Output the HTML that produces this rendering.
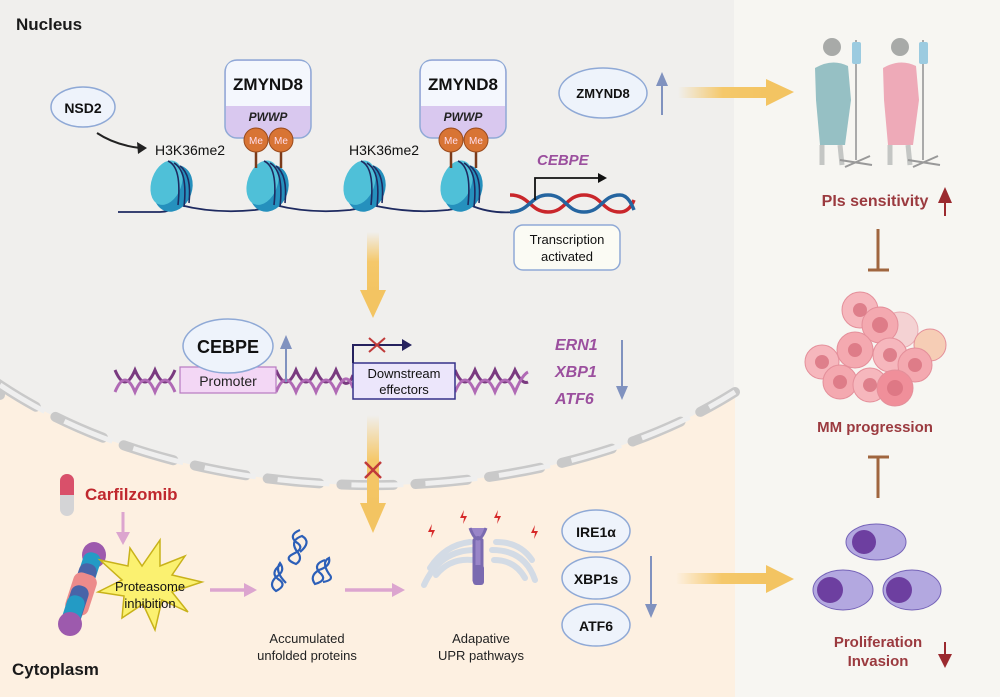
<!DOCTYPE html>
<html><head><meta charset="utf-8"><style>
html,body{margin:0;padding:0;background:#fff}
svg{display:block}
text{font-family:"Liberation Sans",sans-serif}
</style></head><body>
<svg width="1000" height="697" viewBox="0 0 1000 697" xmlns="http://www.w3.org/2000/svg">
<defs>
<linearGradient id="yh" x1="0" x2="1" y1="0" y2="0"><stop offset="0" stop-color="#f5c86a" stop-opacity="0"/><stop offset="0.5" stop-color="#f5c86a"/><stop offset="1" stop-color="#f3c462"/></linearGradient>
<linearGradient id="yv" x1="0" x2="0" y1="0" y2="1"><stop offset="0" stop-color="#f5c86a" stop-opacity="0"/><stop offset="0.5" stop-color="#f5c86a"/><stop offset="1" stop-color="#f3c462"/></linearGradient>
<g id="nuc"><ellipse cx="4" cy="2" rx="19" ry="24" transform="rotate(20)" fill="#2590bd"/><ellipse cx="-4" cy="-1" rx="15" ry="23" transform="rotate(20)" fill="#4fc0d8"/><path d="M-2,-24 Q12,-18 8,20 M4,-22 Q18,-14 14,22 M10,-19 Q22,-10 19,18" stroke="#1e2a60" stroke-width="1.6" fill="none"/></g>
</defs>
<rect width="1000" height="697" fill="#f0efed"/>
<rect x="734" y="0" width="266" height="697" fill="#f7f6f2"/>
<path d="M0,385 A500,300 0 0 0 735,392 L735,697 L0,697 Z" fill="#fdf0e1"/>
<path d="M0,395 L0,385 A500,300 0 0 0 735,392" fill="none" stroke="#c9c9c9" stroke-width="10" stroke-linecap="round" stroke-dasharray="52 22"/>
<path d="M0,385 A500,300 0 0 0 735,392" fill="none" stroke="#efefef" stroke-width="5" stroke-dasharray="52 22"/>

<text x="16" y="30" font-size="17" font-weight="bold" fill="#1a1a1a">Nucleus</text>
<text x="12" y="675" font-size="17" font-weight="bold" fill="#1a1a1a">Cytoplasm</text>

<ellipse cx="83" cy="107" rx="32" ry="20" fill="#eef3fb" stroke="#8fa9d6" stroke-width="1.5"/>
<text x="83" y="113" font-size="14" font-weight="bold" text-anchor="middle" fill="#111">NSD2</text>
<path d="M97,133 Q115,145 140,148" stroke="#222" stroke-width="2" fill="none"/>
<path d="M147,148 L137,142 L138,154 Z" fill="#222"/>
<text x="155" y="155" font-size="14" fill="#111">H3K36me2</text>
<text x="349" y="155" font-size="14" fill="#111">H3K36me2</text>

<path d="M118,212 L160,212 Q170,212 180,205 Q215,214 255,210 Q268,208 275,205 Q310,214 350,210 Q362,208 372,205 Q410,214 448,210 Q460,208 470,205 Q490,214 515,212" stroke="#1e2a60" stroke-width="1.8" fill="none"/>
<use href="#nuc" x="170" y="185"/>
<use href="#nuc" x="266" y="185"/>
<use href="#nuc" x="363" y="185"/>
<use href="#nuc" x="460" y="185"/>

<g>
<rect x="225" y="60" width="86" height="78" rx="12" fill="#d9c8ef" stroke="#8fa9d6" stroke-width="1.5"/>
<path d="M226,106 L226,72 Q226,61 237,61 L299,61 Q310,61 310,72 L310,106 Z" fill="#f4f7fd"/>
<text x="268" y="90" font-size="17" font-weight="bold" text-anchor="middle" fill="#111">ZMYND8</text>
<text x="268" y="121" font-size="12" font-weight="bold" font-style="italic" text-anchor="middle" fill="#222">PWWP</text>
<line x1="256" y1="145" x2="256" y2="168" stroke="#7a3a1a" stroke-width="2.5"/><line x1="281" y1="145" x2="281" y2="168" stroke="#7a3a1a" stroke-width="2.5"/>
<circle cx="256" cy="140" r="12" fill="#d87434" stroke="#9a4a1c"/><circle cx="281" cy="140" r="12" fill="#d87434" stroke="#9a4a1c"/>
<text x="256" y="144" font-size="10" text-anchor="middle" fill="#fde">Me</text><text x="281" y="144" font-size="10" text-anchor="middle" fill="#fde">Me</text>
</g>
<g transform="translate(195,0)">
<rect x="225" y="60" width="86" height="78" rx="12" fill="#d9c8ef" stroke="#8fa9d6" stroke-width="1.5"/>
<path d="M226,106 L226,72 Q226,61 237,61 L299,61 Q310,61 310,72 L310,106 Z" fill="#f4f7fd"/>
<text x="268" y="90" font-size="17" font-weight="bold" text-anchor="middle" fill="#111">ZMYND8</text>
<text x="268" y="121" font-size="12" font-weight="bold" font-style="italic" text-anchor="middle" fill="#222">PWWP</text>
<line x1="256" y1="145" x2="256" y2="168" stroke="#7a3a1a" stroke-width="2.5"/><line x1="281" y1="145" x2="281" y2="168" stroke="#7a3a1a" stroke-width="2.5"/>
<circle cx="256" cy="140" r="12" fill="#d87434" stroke="#9a4a1c"/><circle cx="281" cy="140" r="12" fill="#d87434" stroke="#9a4a1c"/>
<text x="256" y="144" font-size="10" text-anchor="middle" fill="#fde">Me</text><text x="281" y="144" font-size="10" text-anchor="middle" fill="#fde">Me</text>
</g>

<text x="537" y="165" font-size="15" font-weight="bold" font-style="italic" fill="#9b4f9e">CEBPE</text>
<path d="M510,195 C530,195 530,212 548,212 C566,212 566,195 584,195 C602,195 602,212 620,212 C628,212 632,205 634,200" stroke="#c9262b" stroke-width="3.5" fill="none"/>
<path d="M510,212 C530,212 530,195 548,195 C566,195 566,212 584,212 C602,212 602,195 620,195 C628,195 632,205 634,210" stroke="#2565a0" stroke-width="3.5" fill="none"/>
<path d="M535,200 L535,178 L600,178" stroke="#111" stroke-width="1.8" fill="none"/><path d="M607,178 L598,173 L598,183 Z" fill="#111"/>
<rect x="514" y="225" width="106" height="45" rx="9" fill="#fbfbf4" stroke="#8fa9d6" stroke-width="1.5"/>
<text x="567" y="244" font-size="13" text-anchor="middle" fill="#111">Transcription</text>
<text x="567" y="261" font-size="13" text-anchor="middle" fill="#111">activated</text>

<ellipse cx="603" cy="93" rx="44" ry="25" fill="#eef3fb" stroke="#8fa9d6" stroke-width="1.5"/>
<text x="603" y="98" font-size="13" font-weight="bold" text-anchor="middle" fill="#111">ZMYND8</text>
<line x1="662" y1="115" x2="662" y2="82" stroke="#8092bf" stroke-width="2"/><path d="M662,72 L656,86 L668,86 Z" fill="#8092bf"/>
<rect x="678" y="87" width="90" height="11" fill="url(#yh)"/><path d="M766,79 L794,92 L766,106 Z" fill="#f3c462"/>

<rect x="367" y="232" width="12" height="60" fill="url(#yv)"/><path d="M360,290 L386,290 L373,318 Z" fill="#f3c462"/>

<path d="M115,370 Q125,394 135,370 Q145,394 155,370 Q165,394 175,370 M276,370 Q286,394 296,370 Q306,394 316,370 Q326,394 336,370 Q346,394 353,375 M455,370 Q465,394 475,370 Q485,394 495,370 Q505,394 515,370 Q522,385 528,382" stroke="#7a3a80" stroke-width="3" fill="none"/>
<path d="M115,392 Q125,368 135,392 Q145,368 155,392 Q165,368 175,392 M276,392 Q286,368 296,392 Q306,368 316,392 Q326,368 336,392 Q346,368 353,388 M455,392 Q465,368 475,392 Q485,368 495,392 Q505,368 515,392 Q522,375 528,372" stroke="#b06ab5" stroke-width="3" fill="none"/>
<rect x="180" y="367" width="96" height="26" fill="#f3d7f5" stroke="#b77ac0" stroke-width="1.2"/>
<text x="228" y="386" font-size="14" text-anchor="middle" fill="#222">Promoter</text>
<ellipse cx="228" cy="346" rx="45" ry="27" fill="#eef3fb" stroke="#8fa9d6" stroke-width="1.5"/>
<text x="228" y="353" font-size="18" font-weight="bold" text-anchor="middle" fill="#111">CEBPE</text>
<line x1="286" y1="382" x2="286" y2="345" stroke="#8092bf" stroke-width="2"/><path d="M286,335 L280,349 L292,349 Z" fill="#8092bf"/>
<rect x="353" y="363" width="102" height="36" fill="#ece6fb" stroke="#35308a" stroke-width="1.5"/>
<text x="404" y="378" font-size="13" text-anchor="middle" fill="#111">Downstream</text>
<text x="404" y="394" font-size="13" text-anchor="middle" fill="#111">effectors</text>
<path d="M353,363 L353,345 L405,345" stroke="#25215e" stroke-width="2" fill="none"/><path d="M412,345 L402,339 L402,351 Z" fill="#25215e"/>
<path d="M369,338 L385,352 M385,338 L369,352" stroke="#c03a3a" stroke-width="2"/>
<text x="555" y="350" font-size="16" font-weight="bold" font-style="italic" fill="#9b4f9e">ERN1</text>
<text x="555" y="377" font-size="16" font-weight="bold" font-style="italic" fill="#9b4f9e">XBP1</text>
<text x="555" y="404" font-size="16" font-weight="bold" font-style="italic" fill="#9b4f9e">ATF6</text>
<line x1="622" y1="340" x2="622" y2="390" stroke="#8092bf" stroke-width="2"/><path d="M622,400 L616,386 L628,386 Z" fill="#8092bf"/>

<rect x="367" y="415" width="12" height="90" fill="url(#yv)"/><path d="M360,503 L386,503 L373,533 Z" fill="#f3c462"/>
<path d="M365,462 L381,478 M381,462 L365,478" stroke="#c03a3a" stroke-width="2.5"/>

<rect x="60" y="474" width="14" height="42" rx="7" fill="#d4d4d6"/><path d="M60,495 L60,481 A7,7 0 0 1 74,481 L74,495 Z" fill="#d9506a"/>
<text x="85" y="500" font-size="17" font-weight="bold" fill="#c0282e">Carfilzomib</text>
<line x1="123" y1="512" x2="123" y2="535" stroke="#dca5cf" stroke-width="3"/><path d="M123,545 L116,532 L130,532 Z" fill="#dca5cf"/>
<g>
<ellipse cx="94" cy="555" rx="12" ry="13" fill="#9d5aad"/>
<rect x="68" y="563" width="40" height="18" rx="8" fill="#239bc5" transform="rotate(-72 88 572)"/>
<rect x="64" y="574" width="40" height="18" rx="8" fill="#4864a8" transform="rotate(-72 84 583)"/>
<rect x="60" y="582" width="42" height="24" rx="8" fill="#ec8b8b" transform="rotate(-72 81 594)"/>
<rect x="56" y="596" width="40" height="18" rx="8" fill="#4864a8" transform="rotate(-72 76 605)"/>
<rect x="52" y="606" width="40" height="18" rx="8" fill="#239bc5" transform="rotate(-72 72 615)"/>
<ellipse cx="70" cy="624" rx="12" ry="12" fill="#9d5aad"/>
</g>
<polygon points="130,548 142,566 160,540 160,566 185,556 172,575 202,582 172,592 188,612 162,600 155,630 143,604 122,618 124,596 98,592 122,580 100,560 128,566" fill="#fbf170" stroke="#c8b21a" stroke-width="1.5"/>
<text x="150" y="591" font-size="13" text-anchor="middle" fill="#111">Proteasome</text>
<text x="150" y="608" font-size="13" text-anchor="middle" fill="#111">inhibition</text>
<line x1="210" y1="590" x2="245" y2="590" stroke="#dca5cf" stroke-width="3.5"/><path d="M257,590 L244,583 L244,597 Z" fill="#dca5cf"/>
<g stroke="#2c5fb8" stroke-width="2.2" fill="none">
<path d="M300,530 q-12,5 -4,12 q10,6 -3,12 q-10,5 3,10 q8,-5 0,-14 q-6,-10 6,-14 q10,6 -2,16"/>
<path d="M280,565 q-10,8 -2,14 q10,6 -2,12 q-8,-6 0,-14 q10,-6 4,-14 q-6,8 6,20"/>
<path d="M325,560 q-12,4 -6,12 q10,8 -4,12 q-6,-8 4,-14 q12,-4 10,-12 q-8,4 0,16 q6,6 -6,8"/>
</g>
<text x="307" y="643" font-size="13" text-anchor="middle" fill="#222">Accumulated</text>
<text x="307" y="660" font-size="13" text-anchor="middle" fill="#222">unfolded proteins</text>
<line x1="345" y1="590" x2="393" y2="590" stroke="#dca5cf" stroke-width="3.5"/><path d="M405,590 L392,583 L392,597 Z" fill="#dca5cf"/>
<g fill="none" stroke="#d3dbe5" stroke-width="6" stroke-linecap="round">
<path d="M424,585 Q440,550 475,550"/><path d="M436,575 Q450,558 472,560"/><path d="M430,568 Q445,545 470,542"/>
<path d="M492,550 Q525,550 535,580"/><path d="M494,560 Q515,560 525,578"/><path d="M496,542 Q520,542 532,560"/>
</g>
<path d="M474,540 Q478,535 482,540 L482,580 L474,580 Z M470,528 Q478,550 486,528" stroke="#7a6ab0" stroke-width="3" fill="#9985c8"/>
<rect x="473" y="565" width="11" height="20" rx="3" fill="#7a6ab0"/>
<g fill="#d62a2a"><path d="M428,532 l4,-8 l-1,6 l4,0 l-4,8 l1,-6 z"/><path d="M460,518 l4,-8 l-1,6 l4,0 l-4,8 l1,-6 z"/><path d="M494,518 l4,-8 l-1,6 l4,0 l-4,8 l1,-6 z"/><path d="M531,533 l4,-8 l-1,6 l4,0 l-4,8 l1,-6 z"/></g>
<text x="481" y="643" font-size="13" text-anchor="middle" fill="#222">Adapative</text>
<text x="481" y="660" font-size="13" text-anchor="middle" fill="#222">UPR pathways</text>
<ellipse cx="596" cy="531" rx="34" ry="21" fill="#eef3fb" stroke="#8fa9d6" stroke-width="1.5"/>
<text x="596" y="537" font-size="14" font-weight="bold" text-anchor="middle" fill="#111">IRE1α</text>
<ellipse cx="596" cy="578" rx="34" ry="21" fill="#eef3fb" stroke="#8fa9d6" stroke-width="1.5"/>
<text x="596" y="584" font-size="14" font-weight="bold" text-anchor="middle" fill="#111">XBP1s</text>
<ellipse cx="596" cy="625" rx="34" ry="21" fill="#eef3fb" stroke="#8fa9d6" stroke-width="1.5"/>
<text x="596" y="631" font-size="14" font-weight="bold" text-anchor="middle" fill="#111">ATF6</text>
<line x1="651" y1="556" x2="651" y2="608" stroke="#8092bf" stroke-width="2"/><path d="M651,618 L645,604 L657,604 Z" fill="#8092bf"/>
<rect x="676" y="573" width="92" height="11" fill="url(#yh)"/><path d="M766,565 L794,579 L766,593 Z" fill="#f3c462"/>

<g>
<circle cx="832" cy="47" r="9" fill="#a8aaa8"/>
<path d="M815,68 Q832,58 848,66 L851,100 L845,145 L820,145 L816,100 Z" fill="#96c0c4"/>
<path d="M822,145 L822,165 M840,145 L842,165" stroke="#c4c6c4" stroke-width="5"/>
<line x1="856" y1="40" x2="856" y2="160" stroke="#aaa" stroke-width="2"/>
<rect x="852" y="42" width="9" height="22" rx="2" fill="#9ccbe0"/>
<path d="M840,160 L872,165 M845,167 L870,156" stroke="#999" stroke-width="2"/>
<circle cx="900" cy="47" r="9" fill="#a8aaa8"/>
<path d="M883,68 Q900,58 916,66 L919,100 L913,145 L888,145 L884,100 Z" fill="#eeaab8"/>
<path d="M890,145 L890,165 M908,145 L910,165" stroke="#c4c6c4" stroke-width="5"/>
<line x1="923" y1="40" x2="923" y2="160" stroke="#aaa" stroke-width="2"/>
<rect x="919" y="42" width="9" height="22" rx="2" fill="#9ccbe0"/>
<path d="M908,160 L940,165 M913,167 L938,156" stroke="#999" stroke-width="2"/>
</g>
<text x="875" y="206" font-size="16" font-weight="bold" text-anchor="middle" fill="#9b3a3f">PIs sensitivity</text>
<line x1="945" y1="216" x2="945" y2="200" stroke="#9b2a2f" stroke-width="2"/><path d="M945,187 L938,203 L952,203 Z" fill="#9b2a2f"/>
<path d="M878,229 L878,270 M868,270 L889,270" stroke="#a0663f" stroke-width="3"/>
<g stroke="#e48f9a" stroke-width="1">
<circle cx="860" cy="310" r="18" fill="#f6b7bd"/><circle cx="900" cy="330" r="18" fill="#f3c4c6" opacity="0.7"/>
<circle cx="880" cy="325" r="18" fill="#f4a9b0"/><circle cx="930" cy="345" r="16" fill="#f6cdb5"/>
<circle cx="855" cy="350" r="18" fill="#f4a9b0"/><circle cx="890" cy="355" r="17" fill="#f6b7bd"/>
<circle cx="915" cy="365" r="17" fill="#f4a9b0"/><circle cx="822" cy="362" r="17" fill="#f6b7bd"/>
<circle cx="840" cy="382" r="17" fill="#f4a9b0"/><circle cx="870" cy="385" r="17" fill="#f6b7bd"/>
<circle cx="895" cy="388" r="18" fill="#f08f9a"/>
</g>
<g fill="#d9727f" opacity="0.8"><circle cx="860" cy="310" r="7"/><circle cx="880" cy="325" r="8"/><circle cx="855" cy="350" r="7"/><circle cx="890" cy="355" r="7"/><circle cx="915" cy="365" r="7"/><circle cx="822" cy="362" r="7"/><circle cx="840" cy="382" r="7"/><circle cx="870" cy="385" r="7"/><circle cx="895" cy="388" r="8"/></g>
<text x="875" y="432" font-size="15" font-weight="bold" text-anchor="middle" fill="#9b3a3f">MM progression</text>
<path d="M868,457 L889,457 M878,457 L878,498" stroke="#a0663f" stroke-width="3"/>
<g>
<ellipse cx="876" cy="542" rx="30" ry="18" fill="#b3a8e0" stroke="#7563b8"/><circle cx="864" cy="542" r="12" fill="#6d3fa0"/>
<ellipse cx="843" cy="590" rx="30" ry="20" fill="#b3a8e0" stroke="#7563b8"/><circle cx="830" cy="590" r="13" fill="#6d3fa0"/>
<ellipse cx="912" cy="590" rx="29" ry="20" fill="#b3a8e0" stroke="#7563b8"/><circle cx="899" cy="590" r="13" fill="#6d3fa0"/>
</g>
<text x="878" y="647" font-size="15" font-weight="bold" text-anchor="middle" fill="#9b3a3f">Proliferation</text>
<text x="878" y="666" font-size="15" font-weight="bold" text-anchor="middle" fill="#9b3a3f">Invasion</text>
<line x1="945" y1="642" x2="945" y2="658" stroke="#9b2a2f" stroke-width="2"/><path d="M945,668 L938,654 L952,654 Z" fill="#9b2a2f"/>
</svg>
</body></html>
